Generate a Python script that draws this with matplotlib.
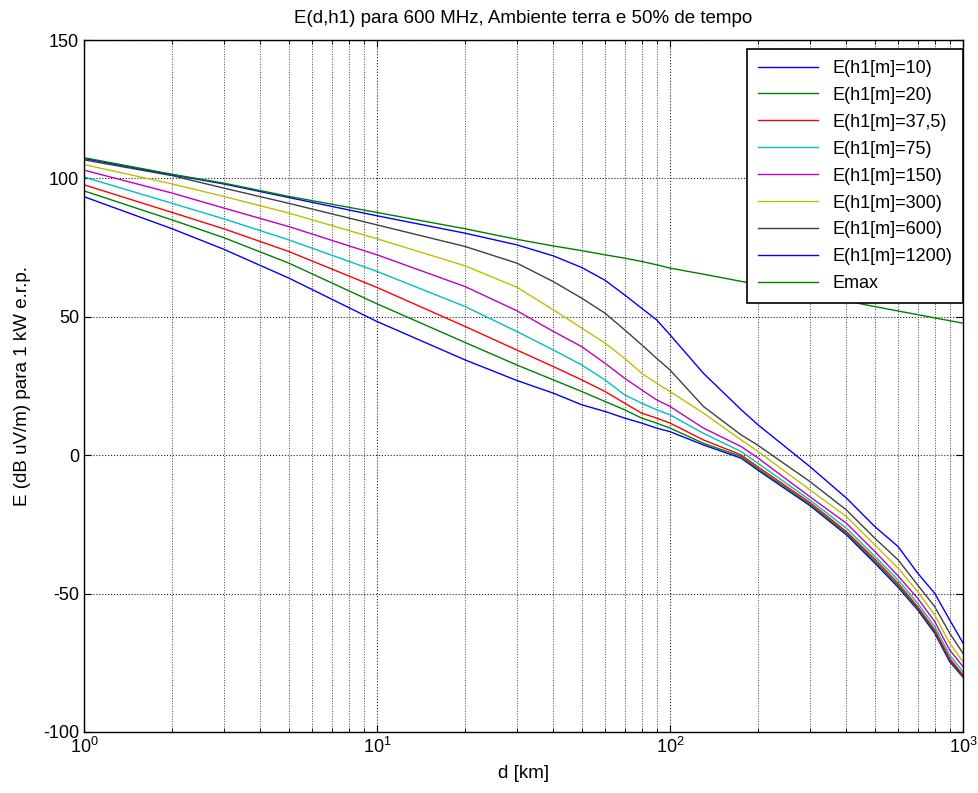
import numpy as np
import matplotlib
matplotlib.use('Agg')
import matplotlib.pyplot as plt
from matplotlib.ticker import LogLocator, NullFormatter

plt.rcParams['font.family'] = ['Liberation Sans', 'DejaVu Sans']
plt.rcParams['axes.unicode_minus'] = False

# distances [km]
d = [1, 2, 3, 5, 10, 20, 30, 40, 50, 60, 70, 80, 90, 100, 130, 175, 200,
     300, 400, 500, 600, 700, 800, 900, 1000]

# field strength, dB uV/m
e10 = [93.4, 81.8, 74.4, 64.0, 48.3, 34.4, 27.0, 22.4, 18.2, 15.8, 13.4, 11.6, 9.8, 8.5, 3.7, -1.1, -5.5,
       -18.2, -28.8, -39.0, -47.7, -55.9, -64.3, -74.6, -80.2]
e20 = [95.5, 85.0, 78.6, 69.4, 54.7, 40.7, 32.6, 27.2, 23.0, 19.4, 16.4, 13.4, 11.6, 9.8, 4.3, -0.5, -5.0,
       -17.7, -28.2, -38.4, -47.1, -55.3, -63.7, -74.0, -79.8]
e37 = [97.7, 87.7, 81.8, 73.6, 60.6, 46.5, 38.0, 32.0, 27.2, 23.0, 18.8, 15.2, 13.4, 11.6, 5.5, 0.1, -4.3,
       -17.1, -27.6, -37.6, -46.3, -54.7, -63.1, -73.4, -79.4]
e75 = [100.5, 91.0, 85.4, 77.8, 66.4, 53.7, 44.7, 38.0, 32.6, 27.2, 21.8, 18.8, 16.4, 14.6, 7.9, 1.3, -3.0,
       -16.2, -26.4, -36.6, -45.1, -53.5, -61.9, -72.2, -78.2]
e150 = [103.0, 94.7, 89.3, 82.6, 72.4, 60.9, 52.2, 44.7, 39.2, 33.2, 27.8, 23.6, 20.0, 17.6, 9.8, 3.1, -1.1,
        -15.0, -24.6, -34.8, -43.6, -51.7, -60.1, -70.4, -76.4]
e300 = [105.0, 98.0, 93.5, 87.5, 78.2, 68.4, 60.7, 52.5, 45.9, 40.5, 35.0, 29.6, 26.0, 23.0, 15.2, 5.5, 1.3,
        -12.5, -22.2, -32.4, -40.8, -49.3, -57.7, -67.9, -74.6]
e600 = [106.7, 101.0, 96.5, 91.0, 83.2, 75.4, 69.4, 62.7, 56.7, 51.3, 45.3, 39.9, 35.0, 30.8, 17.6, 7.3, 3.5,
        -9.5, -19.8, -30.0, -37.8, -46.9, -54.7, -64.3, -71.6]
e1200 = [107.2, 101.3, 98.0, 93.1, 86.5, 80.2, 76.0, 72.0, 67.8, 63.2, 57.9, 53.1, 48.9, 43.5, 29.6, 16.4, 10.9,
         -4.1, -15.5, -25.8, -33.0, -42.6, -49.9, -59.5, -67.9]
emax = [107.5, 101.5, 98.3, 93.5, 87.7, 81.8, 78.0, 75.6, 73.9, 72.4, 71.2, 70.0, 68.8, 67.6, 65.4, 62.8, 61.7,
        58.2, 55.7, 53.7, 52.1, 50.8, 49.6, 48.6, 47.7]

labels = ['E(h1[m]=10)', 'E(h1[m]=20)', 'E(h1[m]=37,5)', 'E(h1[m]=75)',
          'E(h1[m]=150)', 'E(h1[m]=300)', 'E(h1[m]=600)', 'E(h1[m]=1200)', 'Emax']
series = [e10, e20, e37, e75, e150, e300, e600, e1200, emax]
colors = ['#0000ff', '#008000', '#ff0000', '#00bfbf', '#bf00bf', '#bfbf00',
          '#404040', '#0000ff', '#008000']

fig = plt.figure(figsize=(9.79, 7.93), dpi=100)
ax = fig.add_axes([0.0858, 0.077, 0.8979, 0.8725])

for s, lab, c in zip(series, labels, colors):
    ax.semilogx(d, s, color=c, linewidth=1.0, label=lab)

ax.set_xlim(1, 1000)
ax.set_ylim(-100, 150)
ax.set_yticks([-100, -50, 0, 50, 100, 150])
ax.xaxis.set_minor_locator(LogLocator(base=10, subs=np.arange(2, 10)))
ax.xaxis.set_minor_formatter(NullFormatter())

ax.grid(True, which='major', color='#222222', linestyle=':', linewidth=0.8)
ax.grid(True, which='minor', axis='x', color='#444444', linestyle=':', linewidth=0.7)

ax.tick_params(which='both', direction='in', top=True, right=True, labelsize=13)
ax.tick_params(which='major', length=5)
ax.tick_params(which='minor', length=3)
for sp in ax.spines.values():
    sp.set_linewidth(1.0)

ax.set_title('E(d,h1) para 600 MHz, Ambiente terra e 50% de tempo', fontsize=13.5, pad=12)
ax.set_xlabel('d [km]', fontsize=13.5, labelpad=6)
ax.set_ylabel('E (dB uV/m) para 1 kW e.r.p.', fontsize=13.5, labelpad=9)

leg = ax.legend(loc='upper right', bbox_to_anchor=(1.0, 1 - 9 / 692), borderaxespad=0,
                fontsize=13, labelspacing=0.55, handlelength=3.3, handletextpad=0.8,
                borderpad=0.6, fancybox=False, framealpha=1, edgecolor='black')
leg.get_frame().set_linewidth(1.2)

fig.savefig('out.png', dpi=100)
